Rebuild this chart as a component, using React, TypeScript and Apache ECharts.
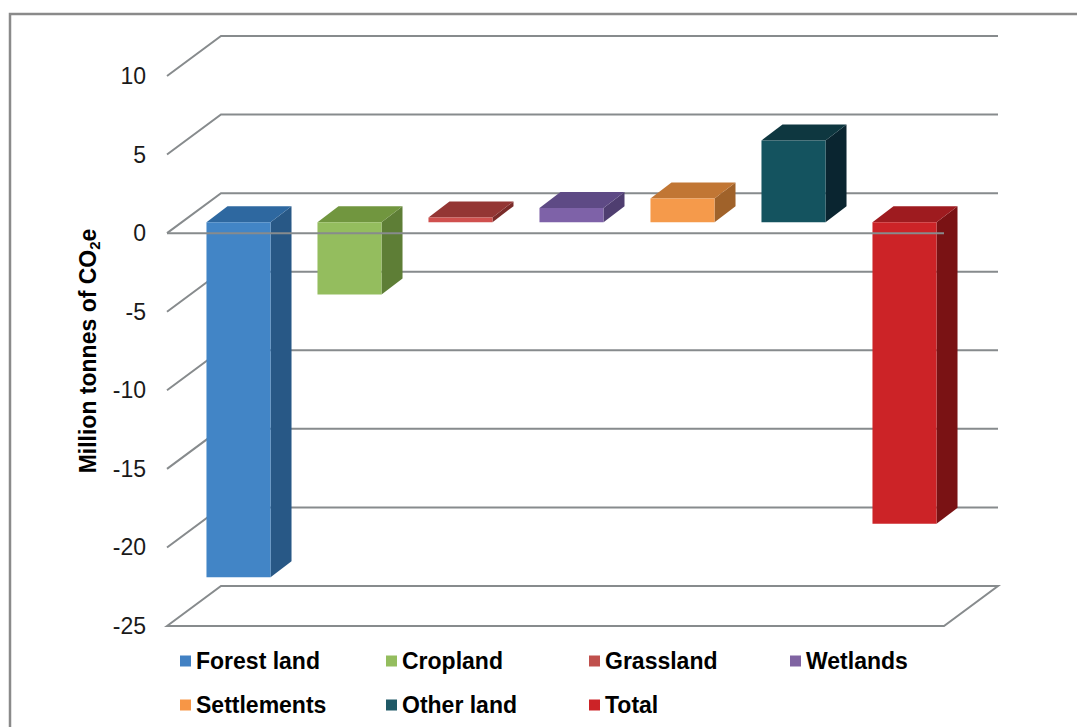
import React, { useEffect, useRef } from 'react';
import * as echarts from 'echarts';

const categories = ['Forest land', 'Cropland', 'Grassland', 'Wetlands', 'Settlements', 'Other land', 'Total'];
const values = [-22.6, -4.6, 0.3, 0.9, 1.5, 5.2, -19.2];
const yTicks = [10, 5, 0, -5, -10, -15, -20, -25];

const frontColors = ['#4285C6', '#94BD5E', '#D0504E', '#7E62A8', '#F59A4B', '#14535F', '#CC2327'];
const topColors = ['#2E68A0', '#71963F', '#943634', '#5E4A85', '#C17634', '#0E3740', '#9E1B1F'];
const sideColors = ['#285886', '#5E7E36', '#7A2B29', '#4F3E70', '#A0622A', '#0A2530', '#7A1214'];
const legendColors = ['#4281C3', '#94BD5E', '#C0504D', '#8064A2', '#F79646', '#1F5966', '#CC2327'];

const FONT = '"Liberation Sans", Arial, sans-serif';
const DEPTH_X = 54;
const DEPTH_Y = -40;
const FRONT_DX = 16;
const FRONT_DY = -11;
const BAR_DX = 21;
const BAR_DY = -16;
const BAR_RATIO = 0.577;
const GRID_COLOR = '#878B8D';

export default function App() {
  const ref = useRef<HTMLDivElement>(null);

  useEffect(() => {
    document.body.style.margin = '0';
    if (!ref.current) return;
    const chart = echarts.init(ref.current, null, { renderer: 'svg' });

    const gridSeries: any = {
      type: 'custom',
      name: 'grid',
      silent: true,
      z: 1,
      data: yTicks.map((v) => [0, v]),
      encode: { x: 0, y: 1 },
      renderItem: (params: any, api: any) => {
        const cs = params.coordSys;
        const v = api.value(1);
        const y = api.coord([0, v])[1];
        const left = cs.x;
        const right = cs.x + cs.width;
        if (v === yTicks[yTicks.length - 1]) {
          return {
            type: 'polygon',
            shape: {
              points: [
                [left, y],
                [left + DEPTH_X, y + DEPTH_Y],
                [right + DEPTH_X, y + DEPTH_Y],
                [right, y],
              ],
            },
            style: { stroke: GRID_COLOR, lineWidth: 2, fill: 'none' },
          };
        }
        return {
          type: 'polyline',
          shape: {
            points: [
              [left, y],
              [left + DEPTH_X, y + DEPTH_Y],
              [right + DEPTH_X, y + DEPTH_Y],
            ],
          },
          style: { stroke: GRID_COLOR, lineWidth: 2, fill: null },
        };
      },
    };

    const zeroSeries: any = {
      type: 'custom',
      name: 'zero',
      silent: true,
      z: 10,
      data: [[0, 0]],
      encode: { x: 0, y: 1 },
      renderItem: (params: any, api: any) => {
        const cs = params.coordSys;
        const y = api.coord([0, 0])[1];
        return {
          type: 'line',
          shape: { x1: cs.x, y1: y, x2: cs.x + cs.width, y2: y },
          style: { stroke: GRID_COLOR, lineWidth: 2 },
        };
      },
    };

    const barSeries: any[] = categories.map((name, i) => ({
      type: 'custom',
      name,
      z: 5,
      itemStyle: { color: legendColors[i] },
      data: [[i, values[i]]],
      encode: { x: 0, y: 1 },
      renderItem: (params: any, api: any) => {
        const idx = api.value(0);
        const v = api.value(1);
        const p0 = api.coord([idx, 0]);
        const p1 = api.coord([idx, v]);
        const bw = api.size([1, 0])[0] * BAR_RATIO;
        const cx = p0[0] + FRONT_DX;
        const ya = p0[1] + FRONT_DY;
        const yb = p1[1] + FRONT_DY;
        const top = Math.min(ya, yb);
        const bot = Math.max(ya, yb);
        const L = cx - bw / 2;
        const R = cx + bw / 2;
        return {
          type: 'group',
          children: [
            {
              type: 'polygon',
              shape: {
                points: [
                  [R, top],
                  [R, bot],
                  [R + BAR_DX, bot + BAR_DY],
                  [R + BAR_DX, top + BAR_DY],
                ],
              },
              style: { fill: sideColors[i] },
            },
            {
              type: 'polygon',
              shape: {
                points: [
                  [L, top],
                  [R, top],
                  [R + BAR_DX, top + BAR_DY],
                  [L + BAR_DX, top + BAR_DY],
                ],
              },
              style: { fill: topColors[i] },
            },
            {
              type: 'rect',
              shape: { x: L, y: top, width: bw, height: bot - top },
              style: { fill: frontColors[i] },
            },
          ],
        };
      },
    }));

    const colX = [180, 386, 589, 790];
    const rowY = [661, 705];
    const legends = categories.map((name, i) => ({
      data: [name],
      left: colX[i % 4],
      top: rowY[Math.floor(i / 4)] - 13,
      padding: 0,
      icon: 'rect',
      itemWidth: 11,
      itemHeight: 11,
      selectedMode: false,
      textStyle: {
        fontFamily: FONT,
        fontSize: 23,
        fontWeight: 'bold',
        color: '#000',
        lineHeight: 26,
      },
    }));

    chart.setOption({
      animation: false,
      backgroundColor: '#fff',
      graphic: [
        {
          type: 'rect',
          shape: { x: 10, y: 14, width: 1200, height: 900 },
          style: { fill: 'none', stroke: '#8A8A8A', lineWidth: 2.5 },
          silent: true,
          z: 0,
        },
      ],
      grid: { left: 167, top: 76, width: 777, height: 550, containLabel: false },
      xAxis: {
        type: 'category',
        data: categories,
        show: false,
      },
      yAxis: {
        type: 'value',
        min: -25,
        max: 10,
        interval: 5,
        axisLine: { show: false },
        axisTick: { show: false },
        splitLine: { show: false },
        axisLabel: {
          fontFamily: FONT,
          fontSize: 23,
          color: '#1a1a1a',
          margin: 21,
        },
        name: '{a|Million tonnes of CO}{s|2}{a|e}',
        nameLocation: 'middle',
        nameRotate: 90,
        nameGap: 56,
        nameTextStyle: {
          rich: {
            a: { fontFamily: FONT, fontSize: 23, fontWeight: 'bold', color: '#000', lineHeight: 27 },
            s: { fontFamily: FONT, fontSize: 15, fontWeight: 'bold', color: '#000', lineHeight: 15, verticalAlign: 'bottom' },
          },
        },
      },
      legend: legends,
      series: [gridSeries, ...barSeries, zeroSeries],
    });

    return () => chart.dispose();
  }, []);

  return <div ref={ref} style={{ width: 1077, height: 727 }} />;
}
